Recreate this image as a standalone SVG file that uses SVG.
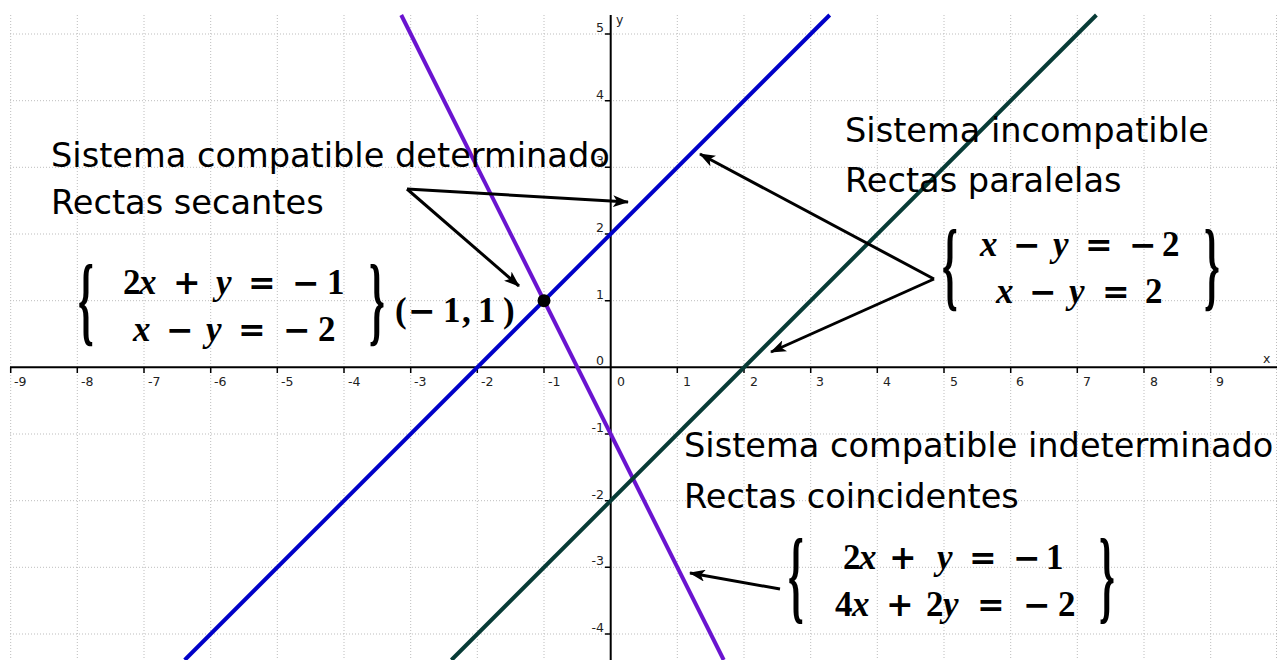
<svg xmlns="http://www.w3.org/2000/svg" width="1277" height="660" viewBox="0 0 1277 660">
<defs>
<style>
.grid line{stroke:#bdbdbd;stroke-width:1;stroke-dasharray:1 2}
.axis{stroke:#000;stroke-width:2;fill:none}
.tick{stroke:#000;stroke-width:1.5}
.tl{font-family:"DejaVu Sans",sans-serif;font-size:12.5px;fill:#222}
.tly{font-family:"DejaVu Sans",sans-serif;font-size:12.5px;fill:#222;text-anchor:end}
.lbl{font-family:"DejaVu Sans",sans-serif;font-size:33.6px;fill:#000}
.eq{font-family:"Liberation Serif",serif;font-weight:bold;font-size:35px;fill:#000}
.v{font-style:italic}
.op{font-family:"DejaVu Serif",serif;font-weight:bold;font-size:33px}
.br{font-family:"Liberation Serif",serif;font-weight:bold;font-size:40px;fill:#000}
.conn path{stroke:#000;stroke-width:3;fill:none;marker-end:url(#ah)}
</style>
<marker id="ah" viewBox="0 0 16 12" refX="15" refY="6" markerWidth="16" markerHeight="12" orient="auto" markerUnits="userSpaceOnUse">
<path d="M0,0 L16,6 L0,12 L4,6 z" fill="#000"/>
</marker>
</defs>
<rect width="1277" height="660" fill="#fff"/>
<g id="grid" class="grid">
<line x1="10.7" y1="15" x2="10.7" y2="660"/><line x1="77.3" y1="15" x2="77.3" y2="660"/><line x1="144" y1="15" x2="144" y2="660"/><line x1="210.7" y1="15" x2="210.7" y2="660"/><line x1="277.3" y1="15" x2="277.3" y2="660"/><line x1="344" y1="15" x2="344" y2="660"/><line x1="410.7" y1="15" x2="410.7" y2="660"/><line x1="477.3" y1="15" x2="477.3" y2="660"/><line x1="544" y1="15" x2="544" y2="660"/><line x1="677.3" y1="15" x2="677.3" y2="660"/><line x1="744" y1="15" x2="744" y2="660"/><line x1="810.7" y1="15" x2="810.7" y2="660"/><line x1="877.3" y1="15" x2="877.3" y2="660"/><line x1="944" y1="15" x2="944" y2="660"/><line x1="1010.7" y1="15" x2="1010.7" y2="660"/><line x1="1077.3" y1="15" x2="1077.3" y2="660"/><line x1="1144" y1="15" x2="1144" y2="660"/><line x1="1210.7" y1="15" x2="1210.7" y2="660"/><line x1="1276.5" y1="15" x2="1276.5" y2="660"/>
<line x1="10" y1="34" x2="1277" y2="34"/><line x1="10" y1="100.7" x2="1277" y2="100.7"/><line x1="10" y1="167.3" x2="1277" y2="167.3"/><line x1="10" y1="234" x2="1277" y2="234"/><line x1="10" y1="300.7" x2="1277" y2="300.7"/><line x1="10" y1="434" x2="1277" y2="434"/><line x1="10" y1="500.7" x2="1277" y2="500.7"/><line x1="10" y1="567.3" x2="1277" y2="567.3"/><line x1="10" y1="634" x2="1277" y2="634"/>
</g>
<g id="axes">
<line class="axis" x1="10" y1="367.3" x2="1277" y2="367.3"/>
<line class="axis" x1="610.7" y1="15" x2="610.7" y2="660"/>
<path class="tick" d="M10.7,367V373M77.3,367V373M144,367V373M210.7,367V373M277.3,367V373M344,367V373M410.7,367V373M477.3,367V373M544,367V373M677.3,367V373M744,367V373M810.7,367V373M877.3,367V373M944,367V373M1010.7,367V373M1077.3,367V373M1144,367V373M1210.7,367V373"/>
<path class="tick" d="M605,34H611M605,100.7H611M605,167.3H611M605,234H611M605,300.7H611M605,434H611M605,500.7H611M605,567.3H611M605,634H611"/>
<text class="tl" x="14" y="386">-9</text><text class="tl" x="81" y="386">-8</text><text class="tl" x="148" y="386">-7</text><text class="tl" x="214" y="386">-6</text><text class="tl" x="281" y="386">-5</text><text class="tl" x="348" y="386">-4</text><text class="tl" x="414" y="386">-3</text><text class="tl" x="481" y="386">-2</text><text class="tl" x="548" y="386">-1</text><text class="tl" x="617" y="386">0</text><text class="tl" x="683" y="386">1</text><text class="tl" x="750" y="386">2</text><text class="tl" x="816" y="386">3</text><text class="tl" x="883" y="386">4</text><text class="tl" x="950" y="386">5</text><text class="tl" x="1016" y="386">6</text><text class="tl" x="1083" y="386">7</text><text class="tl" x="1150" y="386">8</text><text class="tl" x="1216" y="386">9</text>
<text class="tly" x="604" y="32">5</text><text class="tly" x="604" y="98.5">4</text><text class="tly" x="604" y="165">3</text><text class="tly" x="604" y="232">2</text><text class="tly" x="604" y="298.5">1</text><text class="tly" x="604" y="365">0</text><text class="tly" x="604" y="432">-1</text><text class="tly" x="604" y="498.5">-2</text><text class="tly" x="604" y="565">-3</text><text class="tly" x="604" y="632">-4</text>
<text class="tl" x="616" y="24">y</text>
<text class="tl" x="1263" y="363">x</text>
</g>
<g id="lines" stroke-width="4" stroke-linecap="butt">
<line id="line-blue" x1="829.7" y1="15" x2="184.7" y2="660" stroke="#0000c8"/>
<line id="line-purple" x1="401.2" y1="15" x2="723.7" y2="660" stroke="#6a14d0"/>
<line id="line-green" x1="1096.4" y1="15" x2="451.4" y2="660" stroke="#073b36"/>
</g>
<g id="point-A"><circle cx="544" cy="300.7" r="6.5" fill="#000"/></g>
<g id="node-secantes">
<text class="lbl" x="51" y="167">Sistema compatible determinado</text>
<text class="lbl" x="51" y="214">Rectas secantes</text>
<text class="br" transform="translate(78,333) scale(1,2.5)">{</text>
<text class="eq" y="294"><tspan x="123">2</tspan><tspan class="v" x="139">x</tspan><tspan class="op" x="173">+</tspan><tspan class="v" x="216">y</tspan><tspan class="op" x="248">=</tspan><tspan class="op" x="292">−</tspan><tspan x="327">1</tspan></text>
<text class="eq" y="341"><tspan class="v" x="133">x</tspan><tspan class="op" x="166">−</tspan><tspan class="v" x="206">y</tspan><tspan class="op" x="238">=</tspan><tspan class="op" x="283">−</tspan><tspan x="318">2</tspan></text>
<text class="br" transform="translate(369,333) scale(1,2.5)">}</text>
<text class="eq" y="322"><tspan x="395">(</tspan><tspan class="op" x="408">−</tspan><tspan x="443">1</tspan><tspan x="462">,</tspan><tspan x="478">1</tspan><tspan x="503">)</tspan></text>
</g>
<g id="node-incompatible">
<text class="lbl" x="845" y="142">Sistema incompatible</text>
<text class="lbl" x="845" y="192">Rectas paralelas</text>
<text class="br" transform="translate(942,298) scale(1,2.5)">{</text>
<text class="eq" y="256"><tspan class="v" x="980">x</tspan><tspan class="op" x="1013">−</tspan><tspan class="v" x="1053">y</tspan><tspan class="op" x="1085">=</tspan><tspan class="op" x="1129">−</tspan><tspan x="1162">2</tspan></text>
<text class="eq" y="303"><tspan class="v" x="996">x</tspan><tspan class="op" x="1029">−</tspan><tspan class="v" x="1069">y</tspan><tspan class="op" x="1102">=</tspan><tspan x="1145">2</tspan></text>
<text class="br" transform="translate(1204,298) scale(1,2.5)">}</text>
</g>
<g id="node-indeterminado">
<text class="lbl" x="684" y="457">Sistema compatible indeterminado</text>
<text class="lbl" x="684" y="508">Rectas coincidentes</text>
<text class="br" transform="translate(788,610) scale(1,2.6)">{</text>
<text class="eq" y="569"><tspan x="843">2</tspan><tspan class="v" x="859">x</tspan><tspan class="op" x="889">+</tspan><tspan class="v" x="937">y</tspan><tspan class="op" x="969">=</tspan><tspan class="op" x="1013">−</tspan><tspan x="1046">1</tspan></text>
<text class="eq" y="616"><tspan x="835">4</tspan><tspan class="v" x="852">x</tspan><tspan class="op" x="886">+</tspan><tspan x="926">2</tspan><tspan class="v" x="943">y</tspan><tspan class="op" x="977">=</tspan><tspan class="op" x="1023">−</tspan><tspan x="1058">2</tspan></text>
<text class="br" transform="translate(1099,610) scale(1,2.6)">}</text>
</g>
<g id="connectors" class="conn">
<path d="M407,189 L628,202"/>
<path d="M407,189 L519,286"/>
<path d="M934,279 L700,154"/>
<path d="M934,279 L771,352"/>
<path d="M780,589 L690,573"/>
</g>
</svg>
